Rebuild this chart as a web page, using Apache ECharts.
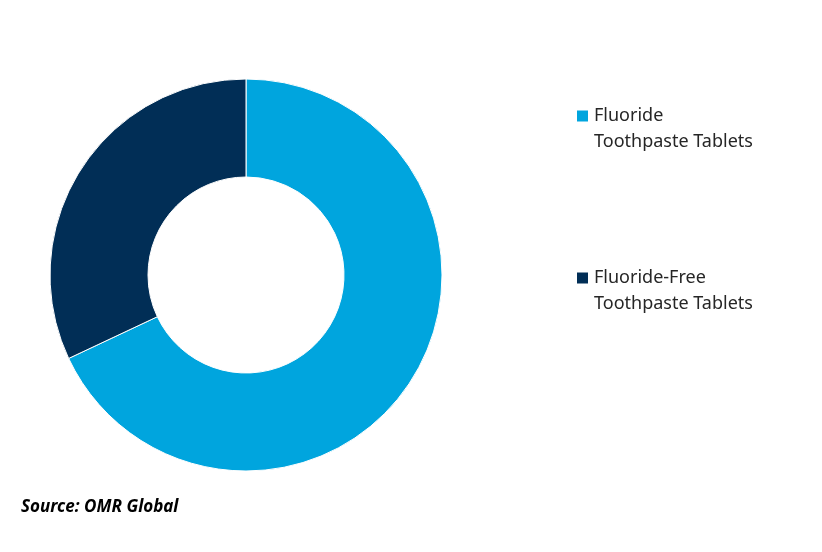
<!DOCTYPE html>
<html>
<head>
<meta charset="utf-8">
<script src="https://cdn.jsdelivr.net/npm/echarts@6/dist/echarts.min.js"></script>
<style>html,body{margin:0;padding:0;background:#fff}#c{width:822px;height:552px}</style>
</head>
<body>
<div id="c"></div>
<script>
var categories = ['Fluoride\nToothpaste Tablets', 'Fluoride-Free\nToothpaste Tablets'];
var values = [68, 32];
var colors = ['#00A5DE', '#012E56'];
var sourceText = 'Source: OMR Global';

var chart = echarts.init(document.getElementById('c'), null, {renderer: 'canvas'});
chart.setOption({
  backgroundColor: '#ffffff',
  animation: false,
  title: {
    text: sourceText,
    left: 21,
    top: 499,
    padding: 0,
    textStyle: {fontFamily: 'Noto Sans', fontSize: 17, fontWeight: 'bold', fontStyle: 'italic', color: '#000'}
  },
  legend: {
    orient: 'vertical',
    left: 575,
    top: 77,
    padding: 0,
    itemGap: 84,
    itemWidth: 13,
    itemHeight: 13,
    icon: 'rect',
    data: categories,
    formatter: function (n) { return '\n' + n; },
    textStyle: {fontFamily: 'Noto Sans', fontSize: 18, lineHeight: 26, color: '#262626'}
  },
  series: [{
    type: 'pie',
    center: [246, 275],
    radius: [98, 196],
    startAngle: 90,
    clockwise: true,
    label: {show: false},
    labelLine: {show: false},
    emphasis: {disabled: true},
    itemStyle: {borderColor: '#ffffff', borderWidth: 1},
    data: categories.map(function (c, i) {
      return {name: c, value: values[i], itemStyle: {color: colors[i]}};
    })
  }]
});
</script>
</body>
</html>
